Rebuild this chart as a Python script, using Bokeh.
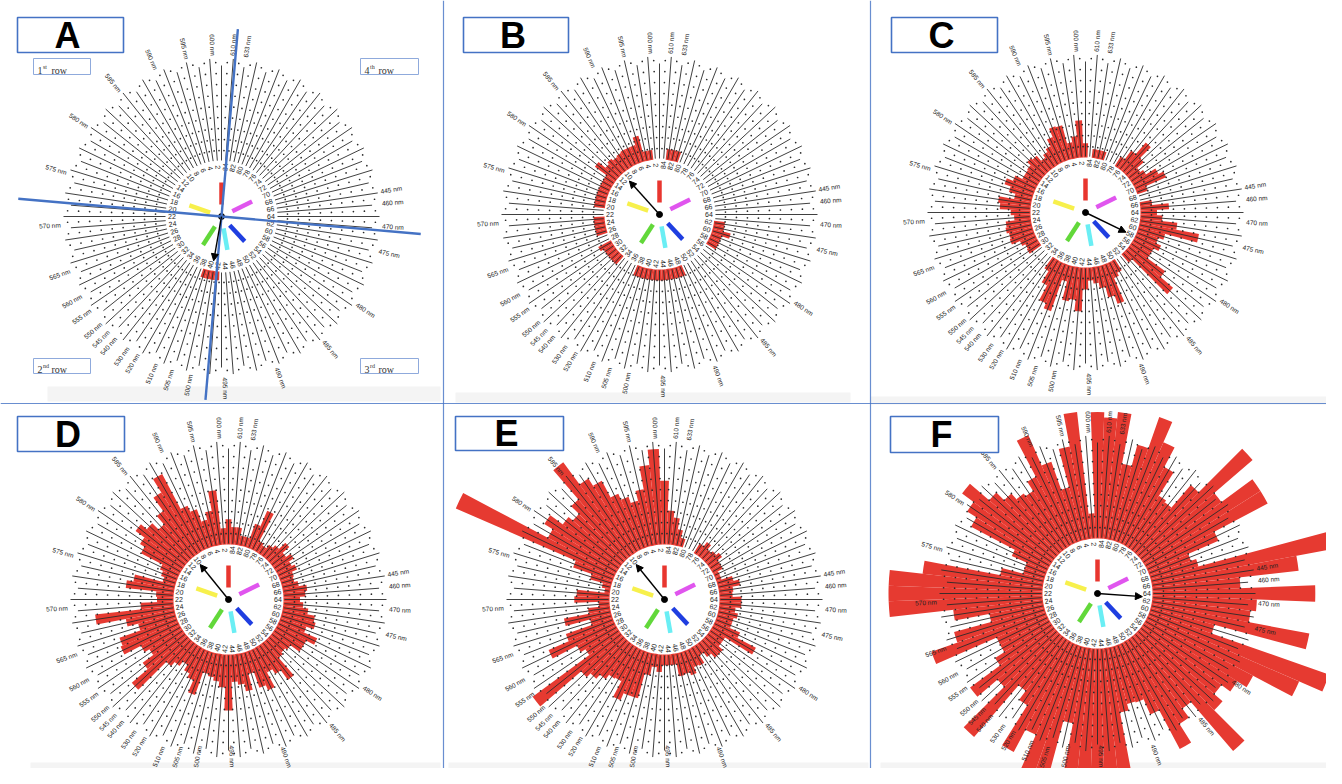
import math
from bokeh.plotting import figure
from bokeh.models import Range1d, Arrow, NormalHead, ColumnDataSource
from bokeh.core.properties import value
from bokeh.embed import file_html
from bokeh.resources import INLINE

# ------------------------------------------------------------------ data
spoke_numbers = list(range(1, 85))                     # 84 radial spokes
inner_tick_numbers = list(range(2, 85, 2))             # labelled spokes
ring_levels = list(range(1, 10))                       # count levels of the dotted rings

wavelength_labels = ["633 nm", "610 nm", "600 nm", "595 nm", "590 nm", "585 nm",
                     "580 nm", "575 nm", "570 nm", "565 nm", "560 nm", "555 nm",
                     "550 nm", "545 nm", "540 nm", "530 nm", "520 nm", "510 nm",
                     "505 nm", "500 nm", "495 nm", "490 nm", "485 nm", "480 nm",
                     "475 nm", "470 nm", "460 nm", "445 nm"]
wavelength_spoke = [83.0, 84.1, 1.7, 3.9, 6.6, 10.1, 14.1, 18.3, 22.7, 26.6, 28.9, 30.3,
                    31.7, 32.6, 33.4, 34.7, 35.7, 37.4, 38.8, 40.4, 43.3, 47.7, 52.2,
                    56.3, 61.1, 63.2, 65.1, 66.1]

hue_bar_colors = ["#e8362f", "#e055ee", "#f7f04c", "#62d83a", "#6aeef4", "#1f3ee0"]
hue_bar_deg = [90, 26, 161, 237, 280, 313]

panel_letters = ["A", "B", "C", "D", "E", "F"]

vals_A = [0] * 38 + [0.8, 0.8, 0.8, 0.8] + [0] * 42

vals_B = ([0, 0, 0.9, 0.9, 2.4, 1.7, 1.7, 1.7, 1.6, 1.5, 1.7, 1.5, 2.3]
          + [1, 1, 1, 1, 1, 1, 1] + [0, 0] + [1, 1, 1, 1] + [0, 0]
          + [1.3, 1, 1, 1, 1] + [0, 0, 0, 0] + [1] * 11 + [0] * 8
          + [1, 1, 1, 1.7, 1, 1] + [0] * 18 + [1, 1, 1] + [0])

vals_C = [1.3, 3.4, 2.0, 1.5, 3.2, 3.3, 2.5, 1.8, 1.5, 1.2,
          1.8, 2.0, 1.6, 1.5, 1.5, 2.2, 2.8, 2.2, 1.6, 3.0,
          2.8, 1.8, 1.5, 2.3, 2.4, 2.2, 2.3, 1.5, 1.2, 1.3,
          0, 0, 0, 0, 1.3, 2.5, 4.0, 4.5, 1.5, 3.2,
          3.0, 4.0, 2.0, 1.2, 1.5, 2.0, 3.0, 3.8, 1.5, 1.2,
          0, 0, 1.0, 5.5, 4.0, 2.0, 2.0, 2.5, 2.0, 2.5,
          5.5, 3.4, 2.0, 1.5, 2.6, 1.1, 0, 0, 1.0, 3.0,
          2.5, 1.5, 1.2, 2.0, 3.4, 2.0, 1.0, 0, 0, 0,
          0.8, 0.8, 0.8, 0]

vals_D = [2.3, 1.5, 5.0, 3.2, 2.5, 3.7, 4.3, 7.9, 6.5, 5.0,
          4.0, 4.8, 5.5, 4.5, 4.0, 1.8, 1.5, 1.2, 3.8, 4.4,
          1.6, 1.5, 3.0, 7.2, 4.5, 3.5, 5.5, 5.7, 4.0, 3.5,
          4.7, 6.6, 3.0, 2.5, 2.0, 2.6, 3.0, 4.2, 2.0, 2.2,
          2.5, 3.0, 5.1, 2.5, 2.8, 3.5, 2.0, 3.5, 4.0, 2.5,
          3.0, 4.1, 2.0, 1.8, 2.0, 3.0, 3.0, 3.8, 2.5, 3.2,
          3.0, 2.3, 1.8, 1.5, 2.0, 2.2, 1.5, 1.2, 1.3, 1.8,
          1.5, 2.0, 1.5, 2.3, 1.5, 1.2, 0.8, 1.0, 3.8, 2.3,
          0.9, 0.9, 1.6, 1.6]

vals_E = [5.8, 8.7, 7.3, 5.2, 4.3, 4.9, 5.5, 7.2, 8.0, 10.5,
          7.0, 6.0, 6.5, 7.9, 7.0, 15.7, 3.8, 2.0, 0.8, 0.5,
          3.0, 3.2, 1.0, 2.0, 4.3, 2.0, 4.5, 6.5, 4.0, 3.5,
          9.9, 5.0, 4.5, 4.0, 3.5, 3.4, 5.0, 4.3, 4.3, 2.0,
          1.2, 1.6, 1.0, 1.0, 1.0, 2.1, 2.0, 2.3, 1.7, 1.8,
          1.0, 1.5, 2.0, 2.0, 1.5, 1.5, 4.4, 2.5, 1.5, 1.5,
          1.8, 1.5, 2.0, 2.0, 1.2, 1.3, 2.0, 1.5, 0.5, 0.5,
          1.0, 1.0, 1.5, 1.2, 1.0, 1.5, 1.0, 0, 0, 0,
          0.8, 1.5, 2.5, 3.1]

vals_F = [11.5, 2.3, 11.6, 8.6, 5.0, 7.7, 10.7, 7.0, 6.0, 6.3,
          7.0, 8.0, 10.3, 9.0, 8.0, 3.5, 2.0, 2.0, 4.0, 11.0,
          14.0, 14.0, 14.0, 8.2, 5.0, 8.5, 11.0, 5.0, 5.0, 6.0,
          9.4, 7.0, 12.2, 6.0, 7.0, 11.3, 9.0, 13.0, 14.0, 7.0,
          13.0, 14.0, 15.0, 15.0, 12.0, 6.0, 5.4, 5.5, 7.0, 11.0,
          9.0, 8.0, 13.9, 10.0, 9.0, 10.0, 11.0, 15.0, 17.3, 6.0,
          14.6, 9.0, 9.5, 14.8, 8.0, 13.4, 17.0, 4.5, 4.0, 7.0,
          12.5, 12.5, 9.0, 13.6, 8.0, 5.3, 5.5, 8.0, 10.0, 12.0,
          9.0, 7.0, 11.6, 11.0]

panel_values = [vals_A, vals_B, vals_C, vals_D, vals_E, vals_F]
arrow_deg = [260, 132, 334, 129, 129, 356]       # mean direction per panel

row_label_num = ["1", "4", "2", "3"]
row_label_sup = ["st", "th", "nd", "rd"]

# ------------------------------------------------------------------ layout / style
W, H = 1342, 784
def Y(yy):            # reference pixel row -> data y
    return H - yy

Y_MIN = 16            # lowest visible data y (figure is 768 px tall)
panel_centers = [(221, 216), (659, 214), (1085, 212), (228, 599), (664, 599), (1097, 593)]
letter_boxes = [(17, 17, 123, 52), (463, 17, 568, 52), (891, 17, 997, 52),
                (17, 416, 124, 451), (455, 416, 563, 450), (890, 416, 998, 452)]
row_boxes = [(33, 58, 90, 74), (360, 58, 418, 74), (33, 358, 90, 373), (360, 358, 418, 373)]

UNIT = 11.0           # px per count
R_BAR0 = 55.0
R_LAB = 49.5
R_SPK0 = 56.0
R_WL = 161.0
WL_LEN = 21.0         # approx. length of a wavelength label in px
RED = "#e63a31"
BLUE = "#4472c4"
FONT = value("Liberation Sans")
STEP = 360.0 / 84


def theta(k):
    return math.radians(90.0 + (k - 1) * STEP)


p = figure(width=1326, height=768, x_range=Range1d(0, 1326), y_range=Range1d(Y_MIN, 784),
           output_backend="svg", toolbar_location=None, min_border=0,
           x_axis_location=None, y_axis_location=None)
p.grid.visible = False
p.outline_line_color = None
p.background_fill_color = "white"

# faint grey strips at the bottom of each screenshot panel
bands = dict(left=[47, 455, 870, 30, 448, 880], right=[440, 850, 1342, 440, 868, 1342],
             top=[Y(386), Y(392), Y(396), Y(762), Y(762), Y(762)],
             bottom=[Y(401), Y(402), Y(404), Y(784), Y(784), Y(784)])
p.quad(source=ColumnDataSource(bands), fill_color="#ececec", fill_alpha=0.6, line_color=None)

# separator lines
p.segment(x0=[443, 870, 0], y0=[Y(0), Y(0), Y(403)], x1=[443, 870, W], y1=[Y(784), Y(784), Y(403)],
          line_color=BLUE, line_width=1.2, line_alpha=0.8)

# ---- radial bars
bx, by, br, ba0, ba1 = [], [], [], [], []
for (cx, cy), vals in zip(panel_centers, panel_values):
    for k, v in zip(spoke_numbers, vals):
        if v > 0:
            t = theta(k)
            bx.append(cx); by.append(Y(cy))
            br.append(R_BAR0 + v * UNIT)
            ba0.append(t - math.radians(STEP) / 2); ba1.append(t + math.radians(STEP) / 2)
p.annular_wedge(x="x", y="y", inner_radius=R_BAR0, outer_radius="r", start_angle="a0",
                end_angle="a1", source=ColumnDataSource(dict(x=bx, y=by, r=br, a0=ba0, a1=ba1)),
                fill_color=RED, line_color=None)

# ---- dotted rings: one dot in each gap between spokes at every count level
dx_, dy_ = [], []
for (cx, cy) in panel_centers:
    for n in ring_levels:
        r = R_BAR0 + n * UNIT
        for k in spoke_numbers:
            t = theta(k + 0.5)
            dx_.append(cx + r * math.cos(t)); dy_.append(Y(cy) + r * math.sin(t))
p.scatter(x=dx_, y=dy_, size=1.7, fill_color="#2a2a2a", line_color=None)

# ---- spokes
sx0, sy0, sx1, sy1 = [], [], [], []
for (cx, cy) in panel_centers:
    for k in spoke_numbers:
        t = theta(k)
        r1 = 158 if k % 2 == 0 else 151
        sx0.append(cx + R_SPK0 * math.cos(t)); sy0.append(Y(cy) + R_SPK0 * math.sin(t))
        sx1.append(cx + r1 * math.cos(t)); sy1.append(Y(cy) + r1 * math.sin(t))
p.segment(x0=sx0, y0=sy0, x1=sx1, y1=sy1, line_color="#2a2a2a", line_width=0.9)

# ---- inner spoke numbers
lx, ly, lt, la = [], [], [], []
for (cx, cy) in panel_centers:
    for k in inner_tick_numbers:
        t = theta(k)
        lx.append(cx + R_LAB * math.cos(t)); ly.append(Y(cy) + R_LAB * math.sin(t))
        lt.append(str(k))
        la.append(t if math.cos(t) >= 0 else t + math.pi)
p.text(x=lx, y=ly, text=lt, angle=la, text_align="center", text_baseline="middle",
       text_font=FONT, text_font_size="7px", text_color="#222222")

# ---- wavelength labels (pulled inward where they would leave the bottom edge)
for side in ("right", "left"):
    wx, wy, wt, wa = [], [], [], []
    for (cx, cy) in panel_centers:
        for lab, k in zip(wavelength_labels, wavelength_spoke):
            t = theta(k)
            right = math.cos(t) >= 0
            if (side == "right") != right:
                continue
            r = R_WL
            s = math.sin(t)
            if s < 0:
                r_max = (Y(cy) - Y_MIN - 2) / (-s) - WL_LEN
                r = min(r, r_max)
            wx.append(cx + r * math.cos(t)); wy.append(Y(cy) + r * s)
            wt.append(lab)
            wa.append(t if right else t + math.pi)
    p.text(x=wx, y=wy, text=wt, angle=wa, text_align="left" if side == "right" else "right",
           text_baseline="middle", text_font=FONT, text_font_size="6.5px", text_color="#222222")

# ---- hue bars in the centre
hx0, hy0, hx1, hy1, hc = [], [], [], [], []
for (cx, cy) in panel_centers:
    for col, d in zip(hue_bar_colors, hue_bar_deg):
        t = math.radians(d)
        hx0.append(cx + 12 * math.cos(t)); hy0.append(Y(cy) + 12 * math.sin(t))
        hx1.append(cx + 34 * math.cos(t)); hy1.append(Y(cy) + 34 * math.sin(t))
        hc.append(col)
p.segment(x0=hx0, y0=hy0, x1=hx1, y1=hy1, line_color=hc, line_width=4.5, line_cap="butt")

# ---- mean-direction arrows
ax0, ay0, ax1, ay1 = [], [], [], []
for (cx, cy), d in zip(panel_centers, arrow_deg):
    t = math.radians(d)
    ax0.append(cx); ay0.append(Y(cy))
    ax1.append(cx + 45 * math.cos(t)); ay1.append(Y(cy) + 45 * math.sin(t))
p.add_layout(Arrow(end=NormalHead(size=7, fill_color="black", line_color="black", line_width=1),
                   x_start="x0", y_start="y0", x_end="x1", y_end="y1",
                   source=ColumnDataSource(dict(x0=ax0, y0=ay0, x1=ax1, y1=ay1)),
                   line_color="black", line_width=1.4))
p.scatter(x=[c[0] for c in panel_centers], y=[Y(c[1]) for c in panel_centers],
          size=6, color="black")

# ---- blue cross in panel A
cxA, cyA = panel_centers[0]
cx0, cy0, cx1, cy1 = [], [], [], []
for d, l1, l2 in [(85, 188, 184), (-5, 200, 204)]:
    t = math.radians(d)
    cx0.append(cxA + l1 * math.cos(t)); cy0.append(Y(cyA) + l1 * math.sin(t))
    cx1.append(cxA - l2 * math.cos(t)); cy1.append(Y(cyA) - l2 * math.sin(t))
p.segment(x0=cx0, y0=cy0, x1=cx1, y1=cy1, line_color=BLUE, line_width=2.4)

# ---- panel letter boxes
p.quad(left=[b[0] for b in letter_boxes], right=[b[2] for b in letter_boxes],
       top=[Y(b[1]) for b in letter_boxes], bottom=[Y(b[3]) for b in letter_boxes],
       fill_color="white", line_color=BLUE, line_width=1.6)
p.text(x=[(b[0] + b[2]) / 2 - 3 for b in letter_boxes],
       y=[Y((b[1] + b[3]) / 2) for b in letter_boxes], text=panel_letters,
       text_align="center", text_baseline="middle", text_font=FONT,
       text_font_style="bold", text_font_size="36px", text_color="black")

# ---- row labels in panel A
p.quad(left=[b[0] for b in row_boxes], right=[b[2] for b in row_boxes],
       top=[Y(b[1]) for b in row_boxes], bottom=[Y(b[3]) for b in row_boxes],
       fill_color="white", line_color="#8faadc", line_width=1)
p.text(x=[b[0] + 4 for b in row_boxes], y=[Y(b[3]) + 4 for b in row_boxes], text=row_label_num,
       text_align="left", text_baseline="alphabetic", text_font=value("Liberation Serif"),
       text_font_size="10px", text_color="#333333")
p.text(x=[b[0] + 9.5 for b in row_boxes], y=[Y(b[3]) + 8 for b in row_boxes], text=row_label_sup,
       text_align="left", text_baseline="alphabetic", text_font=value("Liberation Serif"),
       text_font_size="6px", text_color="#333333")
p.text(x=[b[0] + 18 for b in row_boxes], y=[Y(b[3]) + 4 for b in row_boxes],
       text=["row"] * 4, text_align="left", text_baseline="alphabetic",
       text_font=value("Liberation Serif"), text_font_size="10px", text_color="#333333")

open("out.html", "w").write(file_html(p, INLINE))
